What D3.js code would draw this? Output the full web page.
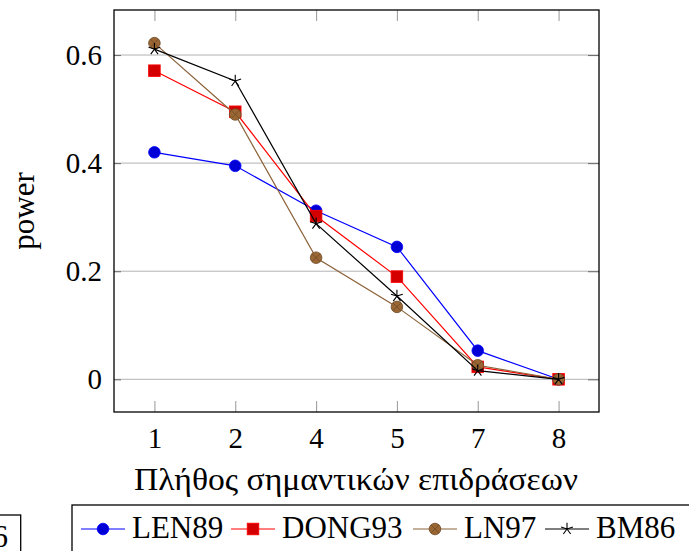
<!DOCTYPE html>
<html><head><meta charset="utf-8">
<script src="https://cdn.jsdelivr.net/npm/d3@7"></script>
<style>body{margin:0;background:#fff}svg{display:block}
svg text{font-family:"Liberation Serif","Times New Roman",serif !important;fill:#000}
</style>
</head><body>
<svg id="c" width="689" height="551"></svg>
<script>
const categories = ["1","2","4","5","7","8"];
const yTicks = [0, 0.2, 0.4, 0.6];
const yTickLabels = ["0","0.2","0.4","0.6"];
const len89  = [0.420, 0.395, 0.312, 0.245, 0.053, 0];
const dong93 = [0.571, 0.495, 0.302, 0.190, 0.023, 0];
const ln97   = [0.622, 0.490, 0.225, 0.134, 0.026, 0];
const bm86   = [0.611, 0.552, 0.288, 0.154, 0.016, 0];
const seriesNames = ["LEN89","DONG93","LN97","BM86"];
const xTitle = "Πλήθος σημαντικών επιδράσεων";
const yTitle = "power";

const svg = d3.select("#c");
const L = 114, R = 599, T = 10, B = 412;
const x = d3.scalePoint().domain(categories).range([L, R]).padding(0.5);
const y = d3.scaleLinear().domain([-0.0605, 0.6833]).range([B, T]);

// grid
svg.append("g").selectAll("line").data(yTicks).join("line")
  .attr("x1", L).attr("x2", R).attr("y1", d => y(d)).attr("y2", d => y(d))
  .attr("stroke", "#b3b3b3").attr("stroke-width", 1);

// axes via d3
const ax = [
  d3.axisBottom(x).tickSize(-11).tickPadding(15),
  d3.axisTop(x).tickSize(-11).tickFormat(""),
  d3.axisLeft(y).tickValues(yTicks).tickSize(-7).tickPadding(12).tickFormat((d,i)=>yTickLabels[i]),
  d3.axisRight(y).tickValues(yTicks).tickSize(-11).tickFormat("")
];
const pos = [[0,B],[0,T],[L,0],[R,0]];
ax.forEach((a,i)=>{
  const g = svg.append("g").attr("transform",`translate(${pos[i][0]},${pos[i][1]})`).call(a);
  g.select(".domain").remove();
  g.selectAll(".tick line").attr("stroke", i<2 ? "#a0a0a0" : "#707070").attr("stroke-width",1.1);
  g.selectAll("text").attr("font-size", 29);
});

// frame
svg.append("rect").attr("x",L).attr("y",T).attr("width",R-L).attr("height",B-T)
  .attr("fill","none").attr("stroke","#000").attr("stroke-width",1.3);

// titles
svg.append("text").attr("x",134).attr("y",490)
  .attr("font-size",31).attr("textLength",444).attr("lengthAdjust","spacingAndGlyphs").text(xTitle);
svg.append("text").attr("transform","translate(34,211) rotate(-90)").attr("text-anchor","middle")
  .attr("font-size",31).text(yTitle);

const series = [
  {name: seriesNames[0], vals: len89, color:"#0000ff", mark:"circle", fill:"#0000d6", stroke:"#0000ff"},
  {name: seriesNames[1], vals: dong93, color:"#ff0000", mark:"square", fill:"#d40000", stroke:"#ff0000"},
  {name: seriesNames[2], vals: ln97, color:"#8c6239", mark:"otimes", fill:"#9a6634", stroke:"#6e4a26"},
  {name: seriesNames[3], vals: bm86, color:"#000000", mark:"star", fill:"none", stroke:"#000"}
];

function drawMark(g, s, cx, cy){
  if(s.mark==="circle"){
    g.append("circle").attr("cx",cx).attr("cy",cy).attr("r",5.8).attr("fill",s.fill).attr("stroke",s.stroke).attr("stroke-width",0.8);
  } else if(s.mark==="square"){
    g.append("rect").attr("x",cx-5.8).attr("y",cy-5.8).attr("width",11.6).attr("height",11.6).attr("fill",s.fill).attr("stroke",s.stroke).attr("stroke-width",0.8);
  } else if(s.mark==="otimes"){
    g.append("circle").attr("cx",cx).attr("cy",cy).attr("r",5.8).attr("fill",s.fill).attr("stroke",s.stroke).attr("stroke-width",0.8);
    const k = 4.1;
    g.append("path").attr("d",`M${cx-k},${cy-k}L${cx+k},${cy+k}M${cx-k},${cy+k}L${cx+k},${cy-k}`).attr("stroke",s.stroke).attr("stroke-width",0.8);
  } else {
    const r = 6.2; let d = "";
    for(let i=0;i<5;i++){ const a = -Math.PI/2 + i*2*Math.PI/5; d += `M${cx},${cy}L${cx+r*Math.cos(a)},${cy+r*Math.sin(a)}`; }
    g.append("path").attr("d",d).attr("stroke","#000").attr("stroke-width",1.1).attr("fill","none");
  }
}

const line = d3.line().x((d,i)=>x(categories[i])).y(d=>y(d));
series.forEach(s=>{
  const g = svg.append("g");
  g.append("path").attr("d", line(s.vals)).attr("fill","none").attr("stroke",s.color).attr("stroke-width",1.2);
  s.vals.forEach((v,i)=>drawMark(g, s, x(categories[i]), y(v)));
});

// legend
svg.append("rect").attr("x",72).attr("y",505).attr("width",700).attr("height",80)
  .attr("fill","#fff").attr("stroke","#000").attr("stroke-width",1.3);
const legX = [81, 231, 413, 545];
const lg = svg.append("g");
series.forEach((s,i)=>{
  const x0 = legX[i], ly = 529;
  lg.append("line").attr("x1",x0).attr("x2",x0+44).attr("y1",ly).attr("y2",ly).attr("stroke",s.color).attr("stroke-width",1.2);
  drawMark(lg, s, x0+22, ly);
  lg.append("text").attr("x",x0+51).attr("y",538).attr("font-size",31).text(s.name);
});

// cut-off box at bottom-left
svg.append("rect").attr("x",-30).attr("y",515).attr("width",50.7).attr("height",60)
  .attr("fill","#fff").attr("stroke","#000").attr("stroke-width",1.3);
svg.append("text").attr("x",8).attr("y",547).attr("text-anchor","end").attr("font-size",31).text("6");
</script>
</body></html>
